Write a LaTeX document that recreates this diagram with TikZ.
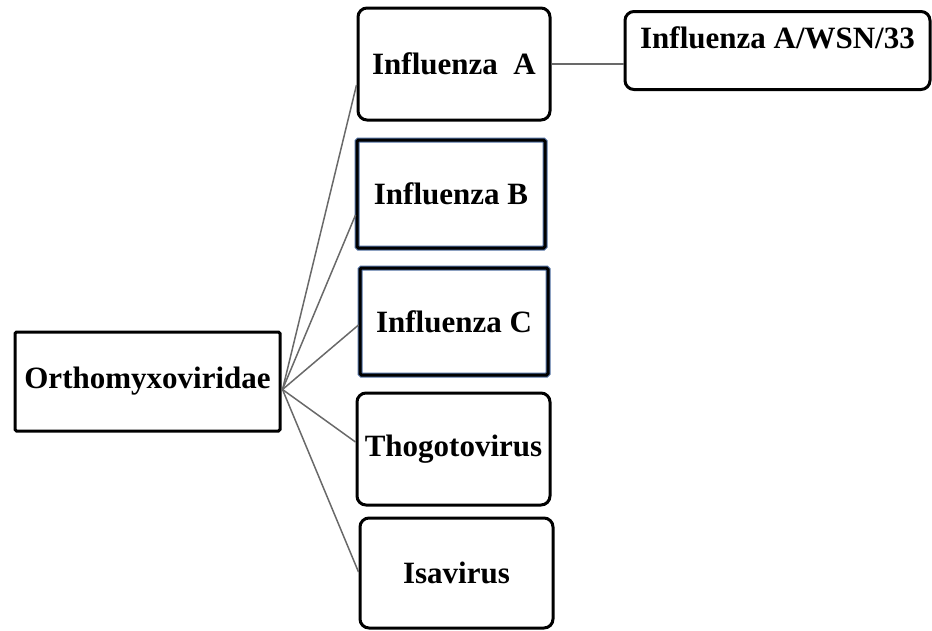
\documentclass[tikz,border=0pt]{standalone}
\usepackage{fontspec}
\setmainfont{Liberation Serif}
\definecolor{linkgray}{RGB}{105,105,105}
\definecolor{edgeblue}{RGB}{80,110,160}
\begin{document}
\begin{tikzpicture}[x=1pt,y=-1pt,
  box/.style={draw=black, line width=3pt, inner sep=2pt, align=center,
    font=\fontsize{31}{37}\selectfont\bfseries},
  roundbox/.style={box, rounded corners=9pt},
  sharpbox/.style={box, rounded corners=1.5pt},
  tintbox/.style={sharpbox, preaction={draw=edgeblue, line width=5pt, rounded corners=1.5pt}},
  link/.style={draw=linkgray, line width=1.5pt}]
\useasboundingbox (0,0) rectangle (932,630);

% family node
\node[sharpbox, minimum width=265pt, minimum height=99pt] (orth) at (147.5,381.5) {Orthomyxoviridae};

% genera
\node[roundbox, minimum width=192pt, minimum height=112pt] (ia) at (454,64) {Influenza\ \ A};
\node[tintbox, minimum width=188pt, minimum height=108pt] (ib) at (451,194) {Influenza B};
\node[tintbox, minimum width=188pt, minimum height=107pt] (ic) at (454,321.5) {Influenza C};
\node[roundbox, minimum width=193pt, minimum height=112pt] (th) at (453.5,449) {Thogotovirus};
\node[roundbox, minimum width=193pt, minimum height=110pt] (is) at (456.5,573) {Isavirus};

% strain, label set near the top of its box
\node[roundbox, anchor=north, inner ysep=0pt, text height=37pt, text depth=41pt,
      minimum width=305pt] (wsn) at (777.5,10) {Influenza A/WSN/33};

% connectors
\coordinate (hub) at ([xshift=1pt,yshift=-8pt]orth.east);
\draw[link] (hub) -- ([yshift=-21pt]ia.west);
\draw[link] (hub) -- ([yshift=-21pt]ib.west);
\draw[link] (hub) -- ([yshift=-3.5pt]ic.west);
\draw[link] (hub) -- ([yshift=7pt]th.west);
\draw[link] (hub) -- ([yshift=1pt]is.west);
\draw[link] (ia.east) -- (ia.east -| wsn.west);
\end{tikzpicture}
\end{document}
